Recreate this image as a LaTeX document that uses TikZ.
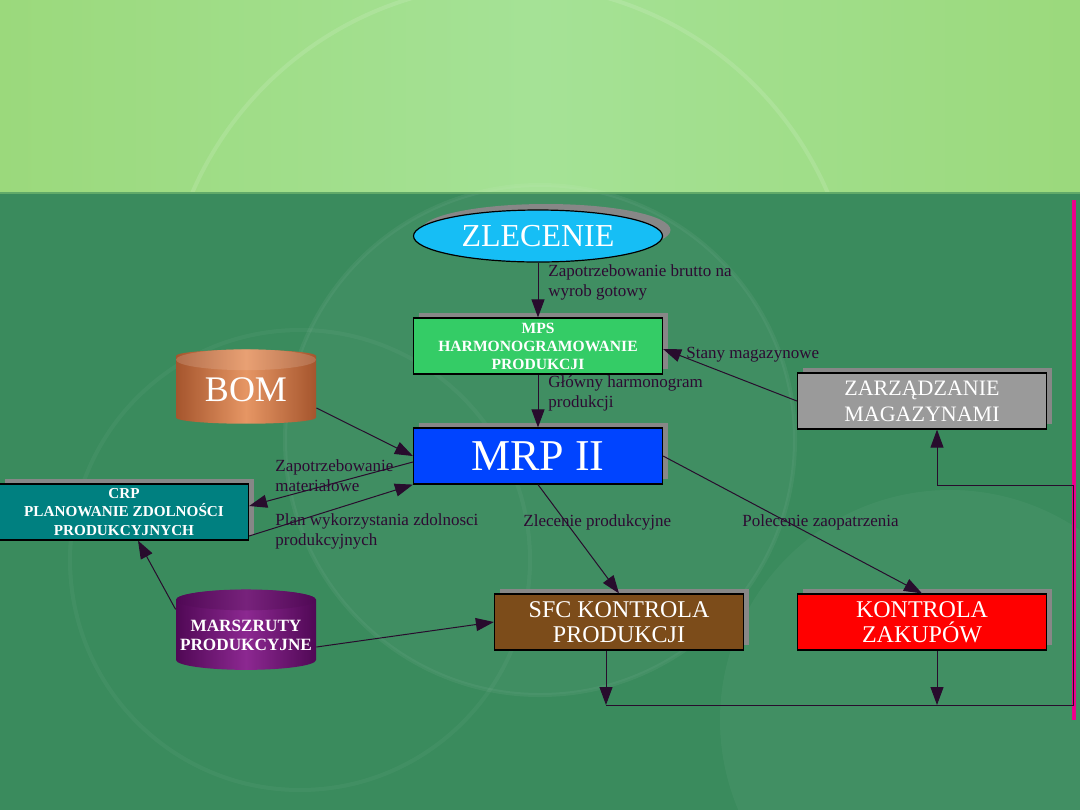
\documentclass[tikz,border=0pt]{standalone}
\usepackage{fontspec}
\setmainfont{Liberation Serif}
\usetikzlibrary{shapes.geometric,arrows.meta,positioning,calc,shadows}

\definecolor{bgtop}{RGB}{155,217,124}
\definecolor{bgtopmid}{RGB}{165,226,150}
\definecolor{bgbot}{RGB}{58,139,93}
\definecolor{shadowgray}{RGB}{135,135,135}
\definecolor{linecol}{RGB}{40,12,45}
\definecolor{lblcol}{RGB}{45,10,50}
\definecolor{zleccol}{RGB}{22,190,245}
\definecolor{mpscol}{RGB}{52,204,102}
\definecolor{mrpcol}{RGB}{0,68,255}
\definecolor{zarzcol}{RGB}{154,154,154}
\definecolor{crpcol}{RGB}{0,128,128}
\definecolor{sfccol}{RGB}{124,76,26}
\definecolor{kzcol}{RGB}{255,0,0}
\definecolor{bomdark}{RGB}{165,85,45}
\definecolor{bomlight}{RGB}{230,150,100}
\definecolor{mardark}{RGB}{80,8,85}
\definecolor{marlight}{RGB}{140,40,145}

\begin{document}
\begin{tikzpicture}[x=0.5pt,y=-0.5pt,
  box/.style={rectangle, draw=black, line width=0.6pt, minimum width=124.5pt, minimum height=28pt,
    inner sep=0pt, align=center, text=white,
    drop shadow={shadow xshift=2.5pt, shadow yshift=2.5pt, fill=shadowgray, opacity=1}},
  drum/.style={cylinder, shape border rotate=90, aspect=0.15, inner sep=0pt, align=center, text=white,
    minimum width=70pt, shading=axis, shading angle=90},
  arr/.style={-{Triangle[length=9pt,width=6.5pt]}, line width=0.5pt, draw=linecol},
  lbl/.style={font=\fontsize{8.5}{10}\selectfont, text=lblcol, align=left, inner sep=0pt, anchor=west}
]
\useasboundingbox (0,0) rectangle (1080,810);

% background
\shade[left color=bgtop, right color=bgtop, middle color=bgtopmid] (0,0) rectangle (1080,192);
\begin{scope}
  \clip (0,0) rectangle (1080,192);
  \draw[white, opacity=0.12, line width=2pt] (510,330) circle (346);
\end{scope}
\fill[bgbot] (0,192) rectangle (1080,810);
\fill[white, opacity=0.03] (540,440) circle (255);
\fill[white, opacity=0.04] (950,720) circle (230);
\draw[white, opacity=0.05, line width=2pt] (540,440) circle (255);
\draw[white, opacity=0.04, line width=2pt] (300,560) circle (230);
\draw[bgbot!60!bgtop, line width=1pt] (0,192.5) -- (1080,192.5);
\draw[magenta, line width=1.8pt] (1074,200) -- (1074,720);

% nodes
\node[ellipse, draw=black, line width=0.6pt, fill=zleccol, minimum width=124.5pt, minimum height=26pt,
  inner sep=0pt, text=white, font=\fontsize{16}{16}\selectfont,
  drop shadow={shadow xshift=4pt, shadow yshift=3pt, fill=shadowgray, opacity=1}]
  (zlec) at (538,236) {ZLECENIE};
\node[box, fill=mpscol, font=\bfseries\fontsize{7.8}{9}\selectfont] (mps) at (538,346)
  {MPS\\HARMONOGRAMOWANIE\\PRODUKCJI};
\node[box, fill=mrpcol, font=\fontsize{22}{22}\selectfont] (mrp) at (538,456) {MRP II};
\node[box, fill=zarzcol, font=\fontsize{11}{13}\selectfont] (zarz) at (922,401)
  {ZARZĄDZANIE\\MAGAZYNAMI};
\node[box, fill=crpcol, font=\bfseries\fontsize{7.6}{9.2}\selectfont] (crp) at (124,512)
  {CRP\\PLANOWANIE ZDOLNOŚCI\\PRODUKCYJNYCH};
\node[box, fill=sfccol, font=\fontsize{12}{12.5}\selectfont] (sfc) at (619,622)
  {SFC KONTROLA\\PRODUKCJI};
\node[box, fill=kzcol, font=\fontsize{12}{12.5}\selectfont] (kz) at (922,622)
  {KONTROLA\\ZAKUPÓW};
\node[drum, minimum height=37pt, left color=bomdark, right color=bomdark, middle color=bomlight,
  font=\fontsize{18}{18}\selectfont] (bom) at (246,390) {BOM};
\node[drum, minimum height=40pt, left color=mardark, right color=mardark, middle color=marlight,
  font=\bfseries\fontsize{8.6}{9.5}\selectfont] (marsz) at (246,635) {MARSZRUTY\\PRODUKCYJNE};
% top faces of the drums
\shade[left color=bomdark!85!white, right color=bomdark!85!white, middle color=bomlight!90!white]
  ([yshift=-5.2pt]bom.north) ellipse (70 and 10.4);
\shade[left color=mardark, right color=mardark, middle color=marlight!85!black]
  ([yshift=-5.2pt]marsz.north) ellipse (70 and 10.4);

% junctions of the feedback loop
\coordinate (j1) at (606,705);
\coordinate (j2) at (937,705);
\coordinate (j3) at (1073,705);
\coordinate (j4) at (1073,485);
\coordinate (j5) at (937,485);

% connectors
\draw[arr] (zlec) -- (mps);
\draw[arr] (mps) -- (mrp);
\draw[arr] ([yshift=-9pt]bom.east) -- (mrp.west);
\draw[arr] ([yshift=-3pt]mrp.west) -- ([yshift=3pt]crp.east);
\draw[arr] ([yshift=-12pt]crp.east) -- (mrp.south west);
\draw[arr] (zarz.west) -- ([yshift=-1.5pt]mps.east);
\draw[arr] (mrp.south) -- (sfc.north);
\draw[arr] (mrp.east) -- (kz.north);
\draw[arr] (marsz.160) -- ([xshift=7pt]crp.south);
\draw[arr] ([yshift=-6pt]marsz.east) -- (sfc.west);
\draw[arr] (sfc.south -| j1) -- (j1);
\draw[arr] (kz.south -| j2) -- (j2);
\draw[line width=0.5pt, draw=linecol] (j1) -- (j3) -- (j4) -- (j5);
\draw[arr] (j5) -- (zarz.south -| j5);

% labels
\node[lbl] (l1) at (548,282) {Zapotrzebowanie brutto na\\wyrob gotowy};
\node[lbl] (l2) at (548,393) {Główny harmonogram\\produkcji};
\node[lbl] (l3) at (686,355) {Stany magazynowe};
\node[lbl] (l4) at (275,476) {Zapotrzebowanie\\materiałowe};
\node[lbl] (l5) at (275,531) {Plan wykorzystania zdolnosci\\produkcyjnych};
\node[lbl] (l6) at (523,522) {Zlecenie produkcyjne};
\node[lbl] (l7) at (742,522) {Polecenie zaopatrzenia};
\end{tikzpicture}
\end{document}
